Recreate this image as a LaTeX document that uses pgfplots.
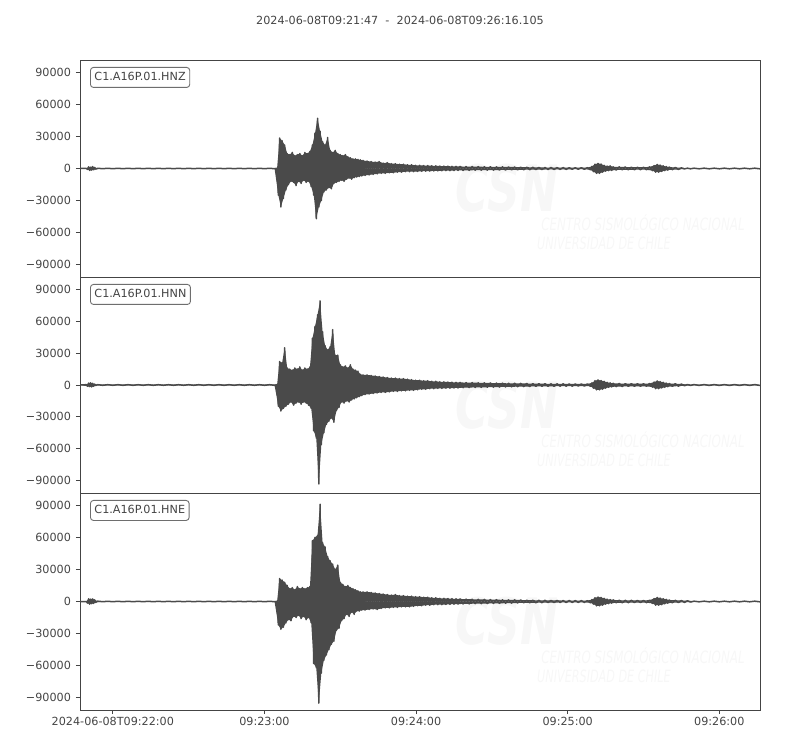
\documentclass[border=0pt]{standalone}
\usepackage{fontspec}
\setmainfont{DejaVu Sans}
\usepackage{graphicx}
\usepackage{pgfplots}
\usepackage{pgfplotstable}
\pgfplotsset{compat=1.18}
\definecolor{txt}{HTML}{444444}
\definecolor{trace}{HTML}{4A4A4A}
\definecolor{boxc}{HTML}{6E6E6E}
\definecolor{wm}{HTML}{F7F7F7}

% t = seconds after 2024-06-08T09:21:47 ; z, n, e = counts
\pgfplotstableread{
t z n e
0.0 0 0 0
2.5 0 300 0
3.0 -800 -1200 -1500
3.4 1500 1800 2500
3.8 -1800 -1500 -2500
4.2 1200 2000 2200
4.6 -1500 -1800 -2000
5.0 1800 1500 2400
5.4 -1200 -1200 -1800
5.8 1000 800 1500
6.2 -600 -500 -800
7.0 200 300 300
9 -200 -300 -200
11 200 300 200
13 -200 -300 -200
15 200 300 200
17 -200 -300 -200
19 200 300 200
21 -200 -300 -200
23 200 300 200
25 -200 -300 -200
27 200 300 200
29 -200 -300 -200
31 200 300 200
33 -200 -300 -200
35 200 300 200
37 -200 -300 -200
39 200 300 200
41 -200 -300 -200
43 200 300 200
45 -200 -300 -200
47 200 300 200
49 -200 -300 -200
51 200 300 200
53 -200 -300 -200
55 200 300 200
57 -200 -300 -200
59 200 300 200
61 -200 -300 -200
63 200 300 200
65 -200 -300 -200
67 200 300 200
69 -200 -300 -200
71 200 300 200
73 -200 -300 -200
75 200 300 200
77 -200 -300 -200
78.0 200 300 200
78.5 -25000 -20000 -22000
79.0 28500 22000 21500
79.5 -36000 -24500 -26000
80.0 26000 21000 20000
80.5 -28000 -22000 -24000
81.0 22000 35000 18000
81.5 -20000 -20000 -20000
82.0 14000 16000 15000
82.5 -15000 -18000 -17000
83.0 13000 15000 12000
83.5 -12000 -16000 -18000
84.0 15000 14000 13000
84.5 -13000 -19000 -14000
85.0 12000 16000 11000
85.5 -16000 -17000 -15000
86.0 13000 15000 14000
86.5 -12000 -16000 -13000
87.0 14000 17000 12000
87.5 -14000 -18000 -16000
88.0 12000 14000 13000
88.5 -11000 -16000 -14000
89.0 15000 16000 12000
89.5 -13000 -17000 -17000
90.0 14000 15000 13000
90.5 -12000 -19000 -15000
91.0 16000 17000 14000
91.5 -17000 -22000 -20000
92.0 22000 44000 57000
92.5 -25000 -43000 -58000
93.0 33000 55000 60000
93.5 -47000 -50000 -62000
94.0 47000 66000 62000
94.5 -36000 -93000 -95000
95.0 35000 79000 91000
95.5 -30000 -56000 -67000
96.0 25000 50000 55000
96.5 -22000 -45000 -55000
97.0 22000 37000 51000
97.5 -20000 -37000 -50000
98.0 29000 33000 42000
98.5 -18000 -34000 -45000
99.0 17000 36000 38000
99.5 -19000 -31000 -40000
100.0 15000 52000 35000
100.5 -14000 -35000 -37000
101.0 17000 28000 30000
101.5 -13000 -24000 -27000
102.0 14000 28000 34000
102.5 -12000 -21000 -25000
103.0 13000 19000 18000
103.5 -11000 -16000 -18000
104.0 12000 17000 16000
104.5 -12000 -17000 -16000
105.0 13000 18000 14000
105.5 -10000 -15000 -12000
106.0 11000 16000 15000
106.5 -9000 -16000 -14000
107.0 10000 19000 13000
107.5 -10000 -14000 -10000
108.0 9000 15000 12000
108.5 -8500 -13000 -12000
109.0 9000 14000 11000
109.5 -8000 -12000 -9000
110.0 8500 13000 10000
110.5 -7500 -11000 -9000
111.0 8000 10000 9000
111.5 -7000 -10000 -8000
112.0 7500 9500 9000
112.8 -6500 -9000 -8000
113.6 7000 9500 9000
114.4 -6000 -8500 -7500
115.2 6500 9000 8500
116.0 -5500 -8000 -7000
116.8 6000 8500 8000
117.6 -5000 -7500 -7500
118.4 6500 8000 7500
119.2 -4500 -7000 -6500
120.0 5000 7500 7000
120.8 -4500 -7000 -6000
121.6 5500 7000 6500
122.4 -4000 -6500 -6000
123.2 4500 6500 6000
124.0 -4000 -6000 -5500
124.8 4500 6500 6500
125.6 -3500 -6000 -5500
126.4 4000 6000 5500
127.2 -3500 -5500 -5000
128.0 4000 6000 5500
128.8 -3000 -5500 -5000
129.6 3500 5500 5000
130.4 -3000 -5000 -5000
131.2 3500 5000 5000
132.0 -3000 -5000 -4500
132.8 3000 4500 4500
133.6 -2800 -4500 -4000
134.4 3000 4500 4500
135.2 -2600 -4000 -4000
136.0 2800 4000 4000
136.8 -2500 -4000 -3500
137.6 2800 4000 4000
138.4 -2400 -3500 -3500
139.2 2500 3500 3500
140.0 -2300 -3500 -3000
140.8 2500 3500 3500
141.6 -2200 -3200 -3000
142.4 2300 3000 3000
143.2 -2100 -3200 -3000
144.0 2200 3000 3000
144.8 -2000 -3000 -2800
145.6 2200 2800 2800
146.4 -2000 -3000 -2600
147.2 2000 2600 2600
148.0 -1900 -2800 -2500
148.8 2000 2500 2500
149.6 -1800 -2800 -2400
150.4 1900 2400 2400
151.6 -1800 -2500 -2300
152.8 1800 2300 2200
154.0 -1700 -2400 -2200
155.2 1800 2200 2100
156.4 -1600 -2300 -2000
157.6 1700 2100 2000
158.8 -1600 -2200 -2000
160.0 1600 2000 1900
161.2 -1500 -2100 -1900
162.4 1600 1900 1800
163.6 -1500 -2000 -1800
164.8 1500 1800 1700
166.0 -1400 -1900 -1700
167.2 1500 1700 1600
168.4 -1400 -1800 -1600
169.6 1400 1600 1500
170.8 -1300 -1700 -1500
172.0 1400 1600 1500
173.2 -1300 -1600 -1400
174.4 1300 1500 1400
175.6 -1200 -1500 -1300
176.8 1200 1400 1300
178.0 -1100 -1400 -1200
179.2 1100 1300 1200
180.4 -1000 -1300 -1200
181.6 1000 1300 1100
182.8 -1000 -1200 -1100
184.0 900 1200 1100
185.2 -900 -1200 -1000
186.4 900 1100 1000
187.6 -900 -1200 -1000
188.8 800 1100 1000
190.0 -800 -1100 -900
191.2 800 1100 900
192.4 -800 -1100 -900
193.6 700 1000 900
194.8 -700 -1100 -800
196.0 700 1000 800
197.2 -700 -1000 -800
198.4 700 1000 800
199.6 -700 -1000 -800
200.8 800 1000 800
202.0 -1200 -1200 -1200
202.6 2000 2000 1800
203.2 -3000 -3000 -2500
203.8 4000 4000 3500
204.4 -4500 -4500 -4000
205.0 4800 4800 4200
205.6 -4500 -4500 -4000
206.2 4200 4200 3800
206.8 -3500 -4000 -3500
207.4 3000 3500 3000
208.0 -2500 -3000 -2500
208.6 2200 2500 2200
209.2 -2000 -2200 -2000
209.8 2500 2000 1800
210.4 -1800 -1800 -1500
211.0 1500 1600 1500
212.2 -1400 -1500 -1300
213.4 1500 1400 1200
214.6 -1300 -1400 -1200
215.8 1400 1300 1100
217.0 -1200 -1300 -1100
218.2 1300 1300 1100
219.4 -1200 -1200 -1000
220.6 1200 1200 1000
221.8 -1100 -1200 -1000
223.0 1200 1200 1000
224.2 -1200 -1200 -1100
225.4 1500 1400 1300
226.6 -2000 -2000 -1800
227.2 2800 2800 2800
227.8 -3500 -3500 -3500
228.4 3800 3800 3800
229.0 -3500 -3500 -3500
229.6 3200 3200 3200
230.2 -2800 -2800 -3000
230.8 2500 2500 2600
231.4 -2000 -2200 -2200
232.0 1800 1800 2000
232.6 -1500 -1600 -1600
233.2 1300 1400 1400
234.4 -1100 -1300 -1200
235.6 1000 1200 1100
236.8 -900 -1100 -1000
238.0 600 900 900
239.2 -400 -700 -800
240.4 300 500 700
241.6 -300 -400 -500
243 300 400 300
245 -300 -400 -300
247 300 400 300
249 -300 -400 -300
251 300 400 300
253 -300 -400 -300
255 300 400 300
257 -300 -400 -300
259 300 400 300
261 -300 -400 -300
263 300 400 300
265 -300 -400 -300
267 300 400 300
269 -300 -400 -300
}\seis

\newcommand{\tf}{\fontsize{11.2}{13}\selectfont}

\pgfplotsset{
  seis/.style={
    width=680pt, scale only axis,
    xmin=0, xmax=269.105,
    ymin=-101500, ymax=101500,
    scaled y ticks=false, scaled x ticks=false,
    axis line style={txt, line width=0.9pt},
    every tick/.style={txt, line width=0.9pt},
    major tick length=4pt,
    tick align=outside,
    ytick pos=left, xtick pos=bottom,
    ytick={-90000,-60000,-30000,0,30000,60000,90000},
    yticklabels={−90000,−60000,−30000,0,30000,60000,90000},
    ticklabel style={font=\tf, text=txt},
    yticklabel style={xshift=-1.5pt},
    unbounded coords=discard,
    clip=true,
  },
}
\tikzset{
  lab/.style={draw=boxc, rounded corners=3pt, fill=white, anchor=north west,
    line width=0.9pt, inner xsep=4pt, inner ysep=4.5pt, text height=8.5pt,
    text depth=2.5pt, text=txt, font=\tf, xshift=10pt, yshift=-7pt},
  tr/.style={color=trace, line width=1.5pt, line join=round, line cap=round},
}

% one seismogram trace: positive and negative peak areas filled + the signal
\newcommand{\trace}[1]{%
  \addplot[fill=trace, draw=none, y filter/.expression={y<0 ? nan : y}] table[x=t, y=#1] {\seis} \closedcycle;
  \addplot[fill=trace, draw=none, y filter/.expression={y>0 ? nan : y}] table[x=t, y=#1] {\seis} \closedcycle;
  \addplot[tr] table[x=t, y=#1] {\seis};
}

\newcommand{\wmark}[1]{%
  \begin{scope}[yshift=#1]
    \node[text=wm, font=\fontsize{64}{64}\bfseries\itshape\selectfont] at (507pt,562pt) {\scalebox{0.71}[1]{CSN}};
    \node[text=wm, font=\fontsize{17}{17}\itshape\selectfont] at (643pt,527pt) {\scalebox{0.70}[1]{CENTRO SISMOLÓGICO NACIONAL}};
    \node[text=wm, font=\fontsize{17}{17}\itshape\selectfont] at (604pt,507pt) {\scalebox{0.66}[1]{UNIVERSIDAD DE CHILE}};
  \end{scope}}

\begin{document}
\begin{tikzpicture}[x=1pt,y=1pt]
\path[use as bounding box] (0,0) rectangle (800,750);
\wmark{0pt}
\wmark{-217pt}
\wmark{-433pt}
\node[text=txt, font=\tf] at (400,730) {2024-06-08T09:21:47\ \ -\ \ 2024-06-08T09:26:16.105};

\begin{axis}[seis, at={(80pt,690pt)}, anchor=north west, height=217pt, xtick=\empty]
\trace{z}
\node[lab] at (rel axis cs:0,1) {C1.A16P.01.HNZ};
\end{axis}

\begin{axis}[seis, at={(80pt,473pt)}, anchor=north west, height=216pt, xtick=\empty]
\trace{n}
\node[lab] at (rel axis cs:0,1) {C1.A16P.01.HNN};
\end{axis}

\begin{axis}[seis, at={(80pt,257pt)}, anchor=north west, height=217pt,
  xtick={13,73,133,193,253},
  xticklabels={2024-06-08T09:22:00,09:23:00,09:24:00,09:25:00,09:26:00}]
\trace{e}
\node[lab] at (rel axis cs:0,1) {C1.A16P.01.HNE};
\end{axis}
\end{tikzpicture}
\end{document}
